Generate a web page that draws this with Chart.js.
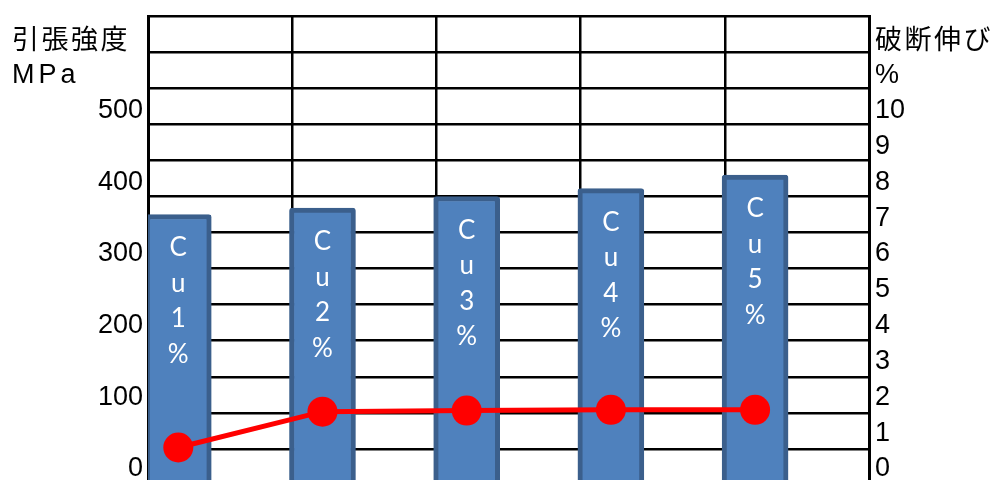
<!DOCTYPE html>
<html>
<head>
<meta charset="utf-8">
<script src="https://cdn.jsdelivr.net/npm/chart.js@4.4.1/dist/chart.umd.min.js"></script>
<style>
  html, body { margin: 0; padding: 0; background: #fff; overflow: hidden; }
</style>
</head>
<body>
<canvas id="chart" width="995" height="500"></canvas>
<script>
// tensile strength (bars, left axis) and elongation at break (line, right axis)
const categories = ["Cu1%", "Cu2%", "Cu3%", "Cu4%", "Cu5%"];
const strength = [355, 364, 380, 391, 410];       // MPa
const elongation = [0.6, 1.6, 1.63, 1.65, 1.65];  // %
const strengthTicks = [0, 100, 200, 300, 400, 500];
const elongationTicks = [0, 1, 2, 3, 4, 5, 6, 7, 8, 9, 10];

// bars sit a bit to the right of each vertical grid line
const SHIFT = 0.21;
const tickFont = { family: "'Liberation Sans', Arial, sans-serif", size: 27 };

// keep the plot area fixed: no extra room for the end tick labels
function noOverhang(scale) {
  scale.paddingTop = 0;
  scale.paddingBottom = 0;
}

const titles = {
  id: "titles",
  afterDraw(chart) {
    const c = chart.ctx;
    c.save();
    c.fillStyle = "#000";
    c.font = "27px 'Liberation Sans', 'Noto Sans CJK JP', sans-serif";
    c.textAlign = "left";
    c.textBaseline = "alphabetic";
    c.letterSpacing = "2.5px";
    c.fillText("引張強度", 12, 49);
    c.fillText("破断伸び", 875, 49);
    c.letterSpacing = "4px";
    c.fillText("MPa", 12, 83);
    c.fillText("%", 875, 83);
    c.restore();
  },
};

// vertical white text inside each bar
const barText = {
  id: "barText",
  afterDatasetsDraw(chart) {
    const meta = chart.getDatasetMeta(1);
    const c = chart.ctx;
    c.save();
    c.fillStyle = "#fff";
    c.font = "26px Lato, 'Open Sans', sans-serif";
    c.textAlign = "center";
    c.textBaseline = "alphabetic";
    meta.data.forEach((bar, i) => {
      [...categories[i]].forEach((ch, j) => {
        c.fillText(ch, bar.x, bar.y + 42 + j * 35.5);
      });
    });
    c.restore();
  },
};

new Chart(document.getElementById("chart"), {
  data: {
    datasets: [
      {
        type: "line",
        label: "破断伸び",
        data: elongation.map((v, i) => ({ x: i + SHIFT, y: v })),
        yAxisID: "y2",
        borderColor: "#ff0000",
        backgroundColor: "#ff0000",
        borderWidth: 5,
        pointRadius: 15,
        pointBorderWidth: 0,
        order: 0,
      },
      {
        type: "bar",
        label: "引張強度",
        data: strength.map((v, i) => ({ x: i + SHIFT, y: v })),
        yAxisID: "y",
        base: -22.3,
        backgroundColor: "#4f81bd",
        borderColor: "#3b5f8c",
        borderWidth: 5,
        borderRadius: 3,
        borderSkipped: false,
        barThickness: 66,
        order: 1,
      },
    ],
  },
  options: {
    responsive: false,
    animation: false,
    layout: { padding: { top: 16, bottom: 15, left: 0, right: 0 } },
    plugins: { legend: { display: false }, tooltip: { enabled: false } },
    scales: {
      x: {
        type: "linear",
        offset: false,
        min: 0,
        max: 5,
        ticks: { display: false, stepSize: 1 },
        grid: { color: "#000", lineWidth: 2.5, drawTicks: false, offset: false },
        border: { display: false },
        afterFit(scale) { scale.height = 0; scale.paddingLeft = 0; scale.paddingRight = 0; },
      },
      y: {
        position: "left",
        min: -22.3,
        max: 631.8,
        afterBuildTicks(axis) { axis.ticks = strengthTicks.map((value) => ({ value })); },
        ticks: { color: "#000", font: tickFont, padding: 5 },
        grid: { display: false, drawTicks: false },
        border: { display: true, color: "#000", width: 3 },
        afterFit(scale) { scale.width = 148; noOverhang(scale); },
      },
      y2: {
        position: "right",
        min: -0.446,
        max: 12.636,
        afterBuildTicks(axis) { axis.ticks = elongationTicks.map((value) => ({ value })); },
        ticks: { color: "#000", font: tickFont, padding: 6 },
        grid: { display: false, drawTicks: false },
        border: { display: true, color: "#000", width: 3 },
        afterFit(scale) { scale.width = 126; noOverhang(scale); },
      },
      g: {
        position: "left",
        min: 0,
        max: 13,
        ticks: { display: false, stepSize: 1 },
        grid: { color: "#000", lineWidth: 2.5, drawTicks: false },
        border: { display: false },
        afterFit(scale) { scale.width = 0; noOverhang(scale); },
      },
    },
  },
  plugins: [titles, barText],
});
</script>
</body>
</html>
